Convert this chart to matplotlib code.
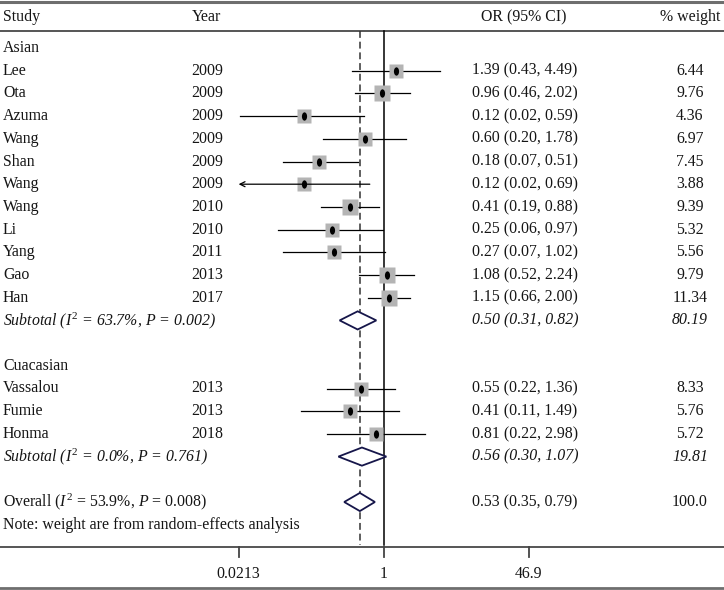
import numpy as np
import matplotlib.pyplot as plt
from matplotlib.markers import MarkerStyle
from matplotlib.transforms import Affine2D

plt.rcParams['font.family'] = 'Liberation Serif'
plt.rcParams['mathtext.fontset'] = 'custom'
plt.rcParams['mathtext.rm'] = 'Liberation Serif'
plt.rcParams['mathtext.it'] = 'Liberation Serif:italic'

# individual studies
studies = ['Lee', 'Ota', 'Azuma', 'Wang', 'Shan', 'Wang', 'Wang', 'Li', 'Yang', 'Gao', 'Han',
           'Vassalou', 'Fumie', 'Honma']
years = [2009, 2009, 2009, 2009, 2009, 2009, 2010, 2010, 2011, 2013, 2017, 2013, 2013, 2018]
odds = [1.39, 0.96, 0.12, 0.60, 0.18, 0.12, 0.41, 0.25, 0.27, 1.08, 1.15, 0.55, 0.41, 0.81]
lower = [0.43, 0.46, 0.022, 0.20, 0.07, 0.02, 0.19, 0.06, 0.07, 0.52, 0.66, 0.22, 0.11, 0.22]
upper = [4.49, 2.02, 0.59, 1.78, 0.51, 0.69, 0.88, 0.97, 1.02, 2.24, 2.00, 1.36, 1.49, 2.98]
weights = [6.44, 9.76, 4.36, 6.97, 7.45, 3.88, 9.39, 5.32, 5.56, 9.79, 11.34, 8.33, 5.76, 5.72]
study_rows = [1, 2, 3, 4, 5, 6, 7, 8, 9, 10, 11, 15, 16, 17]

# subgroups
groups = ['Asian', 'Cuacasian']
group_rows = [0, 14]
sub_rows = [12, 18]
sub_or = [0.50, 0.56]
sub_lo = [0.31, 0.30]
sub_hi = [0.82, 1.07]
sub_w = [80.19, 19.81]
sub_i2 = ['63.7', '0.0']
sub_p = ['0.002', '0.761']

# overall
overall_row = 20
overall_or, overall_lo, overall_hi = 0.53, 0.35, 0.79
overall_w = 100.0
overall_i2, overall_p = '53.9', '0.008'
note_row = 21
note = 'Note: weight are from random-effects analysis'

xticks = [0.0213, 1, 46.9]
xtick_labels = ['0.0213', '1', '46.9']

W, H = 724, 590
fig = plt.figure(figsize=(W / 100, H / 100), dpi=100)
ax = fig.add_axes([0, 0, 1, 1])
ax.set_xscale('log')
ax.axis('off')

# pixel layout -> data limits
x_one, per_dec = 383.8, 86.85
ax.set_xlim(10 ** (-x_one / per_dec), 10 ** ((W - x_one) / per_dec))
y0, step = 48, 22.7
ax.set_ylim((H - y0) / step, -y0 / step)

def py(p):
    return (p - y0) / step

tr = ax.get_yaxis_transform()
fs = 11.4
tc = '#151515'

# frame lines
ax.axhline(py(2), color='#6e6e6e', lw=2.2)
ax.axhline(py(31), color='#555555', lw=1.4)
ax.axhline(py(547), color='#555555', lw=1.4)
ax.axhline(py(588), color='#6e6e6e', lw=2.0)

# header
ax.text(3 / W, py(17), 'Study', transform=tr, fontsize=fs, va='center', color=tc)
ax.text(207 / W, py(17), 'Year', transform=tr, fontsize=fs, va='center', ha='center', color=tc)
ax.text(524 / W, py(17), 'OR (95% CI)', transform=tr, fontsize=fs, va='center', ha='center', color=tc)
ax.text(690 / W, py(17), '% weight', transform=tr, fontsize=fs, va='center', ha='center', color=tc)

# reference lines
ax.plot([1, 1], [py(31), py(545)], color='black', lw=1.1)
ax.plot([overall_or, overall_or], [py(31), py(545)], color='#333333', lw=1.1, ls=(0, (4.5, 2.5)))

lo_lim = xticks[0]
dot = MarkerStyle('o', transform=Affine2D().scale(0.62, 1.0))

for name, yr, o, lo, hi, w, r in zip(studies, years, odds, lower, upper, weights, study_rows):
    if lo < lo_lim:
        ax.annotate('', xy=(lo_lim, r), xytext=(hi, r),
                    arrowprops=dict(arrowstyle='->', color='black', lw=0.9,
                                    shrinkA=0, shrinkB=0, mutation_scale=9))
    else:
        ax.plot([lo, hi], [r, r], color='black', lw=0.9)
    side = 9.5 + 1.8 * np.sqrt(w)
    ax.plot(o, r, marker='s', ms=side * 0.72, color='#b4b4b4', mec='none')
    ax.plot(o, r, marker=dot, ms=6.0, color='black', mec='none')
    ax.text(3 / W, r, name, transform=tr, fontsize=fs, va='center', color=tc)
    ax.text(207 / W, r, str(yr), transform=tr, fontsize=fs, va='center', ha='center', color=tc)
    ax.text(472 / W, r, f'{o:.2f} ({lo:.2f}, {hi:.2f})', transform=tr, fontsize=fs,
            va='center', color=tc)
    ax.text(690 / W, r, f'{w:.2f}', transform=tr, fontsize=fs, va='center', ha='center', color=tc)

def diamond(o, lo, hi, r):
    h = 0.4
    ax.fill([lo, o, hi, o, lo], [r, r - h, r, r + h, r], facecolor='white',
            edgecolor='#16164a', lw=1.3, zorder=3)

for g, gr in zip(groups, group_rows):
    ax.text(3 / W, gr, g, transform=tr, fontsize=fs, va='center', color=tc)

for r, o, lo, hi, w, i2, p in zip(sub_rows, sub_or, sub_lo, sub_hi, sub_w, sub_i2, sub_p):
    diamond(o, lo, hi, r)
    ax.text(3 / W, r, 'Subtotal ($I^2$ = ' + i2 + '%, $P$ = ' + p + ')', transform=tr,
            fontsize=fs, va='center', style='italic', color=tc)
    ax.text(472 / W, r, f'{o:.2f} ({lo:.2f}, {hi:.2f})', transform=tr, fontsize=fs,
            va='center', style='italic', color=tc)
    ax.text(690 / W, r, f'{w:.2f}', transform=tr, fontsize=fs, va='center', ha='center',
            style='italic', color=tc)

diamond(overall_or, overall_lo, overall_hi, overall_row)
ax.text(3 / W, overall_row, 'Overall ($I^2$ = ' + overall_i2 + '%, $P$ = ' + overall_p + ')',
        transform=tr, fontsize=fs, va='center', color=tc)
ax.text(472 / W, overall_row, f'{overall_or:.2f} ({overall_lo:.2f}, {overall_hi:.2f})',
        transform=tr, fontsize=fs, va='center', color=tc)
ax.text(690 / W, overall_row, f'{overall_w:.1f}', transform=tr, fontsize=fs, va='center',
        ha='center', color=tc)
ax.text(3 / W, note_row, note, transform=tr, fontsize=fs, va='center', color=tc)

# x axis ticks
for t, lab in zip(xticks, xtick_labels):
    ax.plot([t, t], [py(547), py(557)], color='#444444', lw=1.3)
    ax.text(t, py(574), lab, fontsize=fs, ha='center', va='center', color=tc)

fig.savefig('out.png', dpi=100)
